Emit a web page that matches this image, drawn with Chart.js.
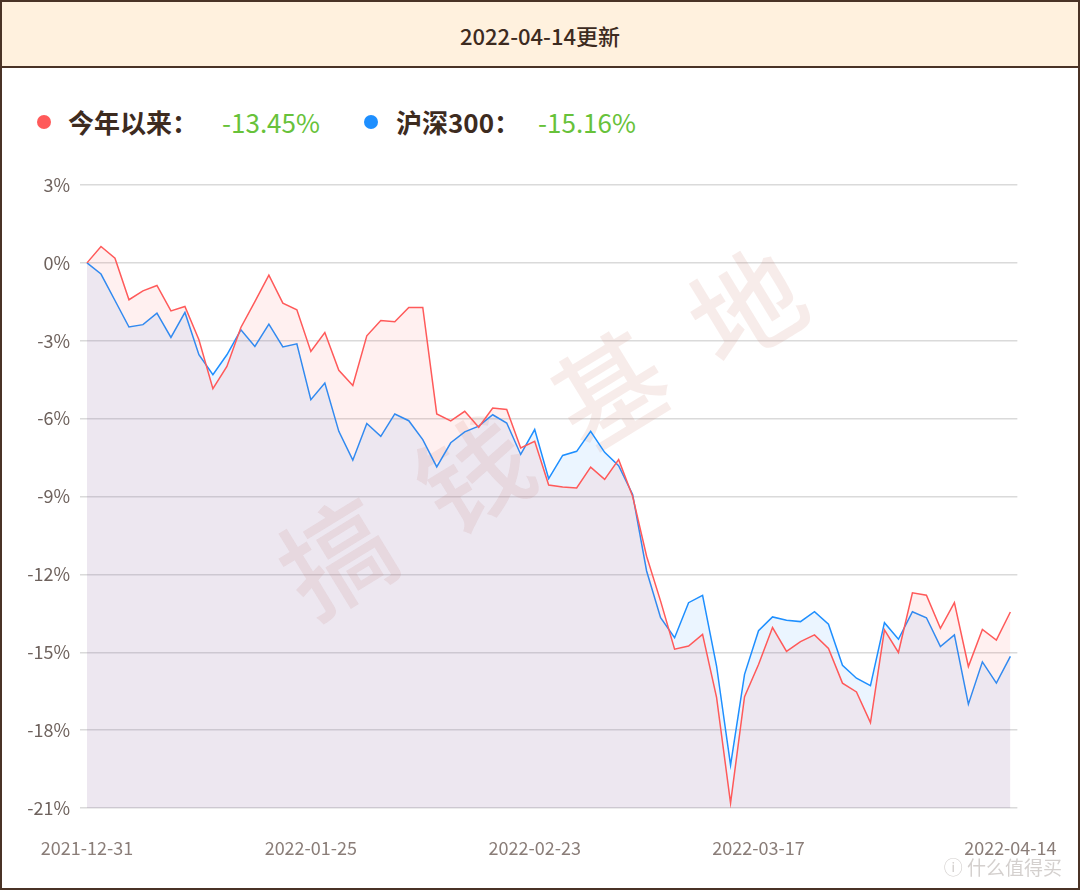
<!DOCTYPE html>
<html>
<head>
<meta charset="utf-8">
<script src="https://cdn.jsdelivr.net/npm/chart.js@4"></script>
<style>
  body { margin: 0; background: #fff; font-family: "Noto Sans CJK SC", "Noto Sans", sans-serif; }
  .card { position: relative; width: 1076px; height: 886px; border: 2px solid #4a3326; background: #fff; overflow: hidden; }
  .head { height: 64px; line-height: 66px; background: #fff1de; border-bottom: 2px solid #4a3326; text-align: center; font-size: 22px; font-weight: 500; color: #3d2b1f; }
  .legend { position: absolute; top: 100px; left: 0; height: 40px; font-size: 26px; color: #3d2b1f; }
  .legend span { position: absolute; top: 0; white-space: nowrap; line-height: 40px; }
  .dot { width: 14px; height: 14px; border-radius: 50%; top: 13px !important; }
  .name { font-weight: 700; }
  .val { color: #67c23a; }
  .wm { position: absolute; right: 16px; bottom: 8px; font-size: 19px; color: #d4d0ce; }
  #wrap { position: absolute; left: 0; top: 148px; width: 1076px; height: 738px; }
</style>
</head>
<body>
<div class="card">
  <div class="head">2022-04-14更新</div>
  <div class="legend">
    <span class="dot" style="left:35px;background:#ff5a5a"></span>
    <span class="name" style="left:66px">今年以来：</span>
    <span class="val" style="left:220px">-13.45%</span>
    <span class="dot" style="left:362px;background:#1e8fff"></span>
    <span class="name" style="left:394px">沪深300：</span>
    <span class="val" style="left:536px">-15.16%</span>
  </div>
  <div id="wrap"><canvas id="myChart"></canvas></div>
  <div class="wm">ⓘ 什么值得买</div>
</div>
<script>
const dates = [
  "2021-12-31",
  "2022-01-04", "2022-01-05", "2022-01-06", "2022-01-07",
  "2022-01-10", "2022-01-11", "2022-01-12", "2022-01-13", "2022-01-14",
  "2022-01-17", "2022-01-18", "2022-01-19", "2022-01-20", "2022-01-21",
  "2022-01-24", "2022-01-25", "2022-01-26", "2022-01-27", "2022-01-28",
  "2022-02-07", "2022-02-08", "2022-02-09", "2022-02-10", "2022-02-11",
  "2022-02-14", "2022-02-15", "2022-02-16", "2022-02-17", "2022-02-18",
  "2022-02-21", "2022-02-22", "2022-02-23", "2022-02-24", "2022-02-25",
  "2022-02-28", "2022-03-01", "2022-03-02", "2022-03-03", "2022-03-04",
  "2022-03-07", "2022-03-08", "2022-03-09", "2022-03-10", "2022-03-11",
  "2022-03-14", "2022-03-15", "2022-03-16", "2022-03-17", "2022-03-18",
  "2022-03-21", "2022-03-22", "2022-03-23", "2022-03-24", "2022-03-25",
  "2022-03-28", "2022-03-29", "2022-03-30", "2022-03-31", "2022-04-01",
  "2022-04-06", "2022-04-07", "2022-04-08",
  "2022-04-11", "2022-04-12", "2022-04-13", "2022-04-14"
];

// 今年以来 (%)
const fundReturn = [
  0, 0.63, 0.18, -1.42, -1.08, -0.87, -1.85, -1.68, -2.96, -4.85,
  -3.99, -2.49, -1.49, -0.47, -1.55, -1.81, -3.41, -2.68, -4.14, -4.72,
  -2.81, -2.22, -2.27, -1.72, -1.72, -5.82, -6.09, -5.72, -6.33, -5.59,
  -5.65, -7.13, -6.87, -8.56, -8.63, -8.67, -7.87, -8.34, -7.58, -8.99,
  -11.3, -13.03, -14.88, -14.76, -14.31, -16.74, -20.81, -16.71, -15.47, -14.05,
  -14.97, -14.59, -14.33, -14.85, -16.19, -16.53, -17.71, -14.14, -15.01, -12.71,
  -12.8, -14.08, -13.09, -15.55, -14.12, -14.53, -13.45
];

// 沪深300 (%)
const hs300Return = [
  0, -0.43, -1.45, -2.47, -2.38, -1.94, -2.87, -1.91, -3.54, -4.31,
  -3.54, -2.58, -3.22, -2.36, -3.24, -3.12, -5.27, -4.63, -6.49, -7.6,
  -6.19, -6.68, -5.82, -6.08, -6.81, -7.86, -6.93, -6.51, -6.29, -5.85,
  -6.17, -7.38, -6.42, -8.31, -7.42, -7.26, -6.49, -7.3, -7.81, -8.92,
  -11.87, -13.67, -14.44, -13.09, -12.81, -15.53, -19.35, -15.85, -14.17, -13.64,
  -13.77, -13.82, -13.44, -13.92, -15.5, -16.0, -16.29, -13.86, -14.5, -13.44,
  -13.67, -14.78, -14.33, -17.0, -15.37, -16.19, -15.16
];

const shownDates = ["2021-12-31", "2022-01-25", "2022-02-23", "2022-03-17", "2022-04-14"];
const yTicks = [3, 0, -3, -6, -9, -12, -15, -18, -21];

// faint diagonal watermark behind the lines
const watermark = {
  id: "watermark",
  beforeDatasetsDraw(chart) {
    const ctx = chart.ctx;
    ctx.save();
    ctx.translate(540, 282);
    ctx.rotate(-0.55);
    ctx.font = "500 110px 'Noto Sans CJK SC'";
    ctx.fillStyle = "rgba(200, 125, 112, 0.15)";
    ctx.textAlign = "center";
    ctx.textBaseline = "middle";
    ["搞", "钱", "基", "地"].forEach((c, i) => ctx.fillText(c, (i - 1.5) * 160, 0));
    ctx.restore();
  },
};

const myChart = document.getElementById("myChart").getContext("2d");

new Chart(myChart, {
  type: "line",
  data: {
    labels: dates,
    datasets: [
      {
        label: "今年以来",
        data: fundReturn,
        borderColor: "#ff5a5a",
        backgroundColor: "rgba(255, 90, 90, 0.09)",
        borderWidth: 1.5,
        pointRadius: 0,
        fill: "start",
      },
      {
        label: "沪深300",
        data: hs300Return,
        borderColor: "#1e8fff",
        backgroundColor: "rgba(30, 143, 255, 0.09)",
        borderWidth: 1.5,
        pointRadius: 0,
        fill: "start",
      },
    ],
  },
  options: {
    responsive: true,
    maintainAspectRatio: false,
    animation: false,
    layout: { padding: { left: 0, right: 58, top: 35, bottom: 0 } },
    plugins: {
      legend: { display: false },
      tooltip: { enabled: false },
    },
    scales: {
      x: {
        offset: true,
        grid: { display: false },
        border: { display: false },
        afterFit: (s) => { s.height = 80; },
        ticks: {
          autoSkip: false,
          maxRotation: 0,
          minRotation: 0,
          padding: 21,
          color: "#8a7d78",
          font: { size: 18, family: "'Noto Sans CJK SC', 'Noto Sans', sans-serif" },
          callback: function (val) {
            const d = this.getLabelForValue(val);
            return shownDates.includes(d) ? d : "";
          },
        },
      },
      y: {
        min: -21,
        max: 3,
        afterFit: (s) => { s.width = 78; },
        afterBuildTicks: (s) => { s.ticks = yTicks.map((v) => ({ value: v })); },
        border: { display: false },
        grid: { color: "#dadada", lineWidth: 1.5, drawTicks: false },
        ticks: {
          padding: 10,
          color: "#6e625d",
          font: { size: 18, family: "'Noto Sans CJK SC', 'Noto Sans', sans-serif" },
          callback: (v) => v + "%",
        },
      },
    },
  },
  plugins: [watermark],
});
</script>
</body>
</html>
